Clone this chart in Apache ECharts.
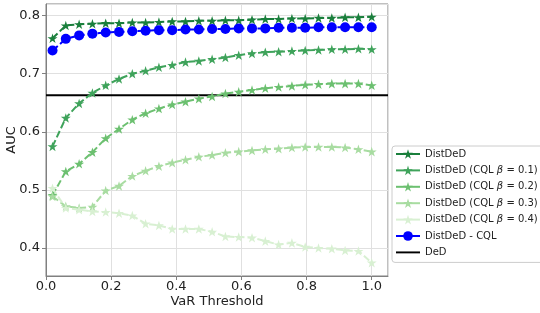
<!DOCTYPE html>
<html>
<head>
<meta charset="utf-8">
<script src="https://cdn.jsdelivr.net/npm/echarts@6/dist/echarts.min.js"></script>
<style>
html,body{margin:0;padding:0;background:#fff;}
#chart{width:540px;height:313px;}
</style>
</head>
<body>
<div id="chart"></div>
<script>
// VaR thresholds (25 evenly spaced values, 0.02 .. 1.0)
var thresholds = [0.02, 0.0608, 0.1017, 0.1425, 0.1833, 0.2242, 0.265, 0.3058, 0.3467, 0.3875, 0.4283, 0.4692, 0.51, 0.5508, 0.5917, 0.6325, 0.6733, 0.7142, 0.755, 0.7958, 0.8367, 0.8775, 0.9183, 0.9592, 1.0];

var distDeD = [0.761, 0.783, 0.785, 0.786, 0.787, 0.787, 0.788, 0.788, 0.789, 0.790, 0.790, 0.791, 0.791, 0.792, 0.792, 0.793, 0.794, 0.794, 0.795, 0.795, 0.796, 0.796, 0.797, 0.797, 0.798];
var cqlBeta01 = [0.575, 0.624, 0.649, 0.667, 0.680, 0.691, 0.700, 0.705, 0.711, 0.715, 0.720, 0.722, 0.725, 0.728, 0.732, 0.735, 0.737, 0.738, 0.739, 0.740, 0.741, 0.742, 0.742, 0.743, 0.742];
var cqlBeta02 = [0.491, 0.532, 0.545, 0.565, 0.589, 0.605, 0.621, 0.632, 0.640, 0.647, 0.652, 0.657, 0.661, 0.666, 0.669, 0.672, 0.675, 0.677, 0.679, 0.681, 0.682, 0.683, 0.683, 0.683, 0.680];
var cqlBeta03 = [0.489, 0.472, 0.469, 0.471, 0.499, 0.507, 0.524, 0.533, 0.541, 0.547, 0.552, 0.557, 0.560, 0.564, 0.566, 0.568, 0.570, 0.571, 0.573, 0.574, 0.574, 0.574, 0.573, 0.570, 0.566];
var cqlBeta04 = [0.503, 0.469, 0.466, 0.463, 0.462, 0.460, 0.456, 0.442, 0.439, 0.433, 0.433, 0.433, 0.428, 0.420, 0.419, 0.418, 0.412, 0.406, 0.409, 0.402, 0.400, 0.399, 0.396, 0.395, 0.375];
var distDeDCQL = [0.740, 0.760, 0.766, 0.769, 0.771, 0.772, 0.773, 0.774, 0.775, 0.775, 0.776, 0.776, 0.777, 0.777, 0.778, 0.778, 0.778, 0.779, 0.779, 0.779, 0.780, 0.780, 0.780, 0.780, 0.780];
var dedValue = 0.663;

var seriesNames = ['DistDeD', 'DistDeD (CQL β = 0.1)', 'DistDeD (CQL β = 0.2)', 'DistDeD (CQL β = 0.3)', 'DistDeD (CQL β = 0.4)', 'DistDeD - CQL', 'DeD'];

var xMin = 0, xMax = 1.05, yMin = 0.352, yMax = 0.82;

function pairs(ys) { return thresholds.map(function (x, i) { return [x, ys[i]]; }); }

var STAR = 'path://M0,-100 L22.45,-30.9 L95.1,-30.9 L36.3,11.8 L58.8,80.9 L0,38.2 L-58.8,80.9 L-36.3,11.8 L-95.1,-30.9 L-22.45,-30.9 Z';

function starSeries(name, ys, color) {
  return {
    name: name, type: 'line', data: pairs(ys),
    symbol: STAR, symbolSize: 10, symbolKeepAspect: true,
    itemStyle: { color: color },
    lineStyle: { color: color, width: 2, type: [7, 3] },
    emphasis: { disabled: true }
  };
}

var chart = echarts.init(document.getElementById('chart'), null, { renderer: 'canvas' });
var font = 'DejaVu Sans';

var legendData = seriesNames.map(function (n) {
  if (n === 'DeD') return { name: n, icon: 'path://M0,0H100V8H0Z' };
  return { name: n };
});

chart.setOption({
  animation: false,
  backgroundColor: '#ffffff',
  textStyle: { fontFamily: font },
  grid: { left: 46, right: 152, top: 4, bottom: 37, containLabel: false, outerBoundsMode: 'none',
    show: true, borderColor: '#808080', borderWidth: 1, backgroundColor: 'transparent' },
  legend: {
    orient: 'vertical', left: 392, top: 146,
    data: legendData,
    itemWidth: 24, itemHeight: 12, itemGap: 6.4,
    padding: [3, 10, 5, 3],
    lineStyle: { type: 'solid', width: 2 },
    backgroundColor: '#ffffff', borderColor: '#cccccc', borderWidth: 1, borderRadius: 3,
    textStyle: { fontFamily: font, fontSize: 10, color: '#222',
      rich: { n: { fontFamily: font, fontSize: 10, color: '#222' }, b: { fontFamily: font, fontSize: 10, color: '#222', fontStyle: 'italic' } } },
    formatter: function (name) {
      if (name.indexOf('β') >= 0) {
        var parts = name.split('β');
        return '{n|' + parts[0] + '}{b|β}{n|' + parts[1] + '}';
      }
      return name;
    }
  },
  xAxis: {
    type: 'value', min: xMin, max: xMax, interval: 0.2,
    name: 'VaR Threshold', nameLocation: 'middle', nameGap: 19, nameMoveOverlap: false,
    nameTextStyle: { fontFamily: font, fontSize: 13, color: '#222' },
    axisLine: { show: true, onZero: false, lineStyle: { color: '#808080' } },
    axisTick: { show: true, inside: false, length: 4, lineStyle: { color: '#808080' } },
    axisLabel: { fontFamily: font, fontSize: 13, color: '#222', margin: 4, showMaxLabel: false,
      formatter: function (v) { return v.toFixed(1); } },
    splitLine: { show: true, lineStyle: { color: '#e0e0e0', width: 1 } }
  },
  yAxis: {
    type: 'value', min: yMin, max: yMax, splitNumber: 5,
    name: 'AUC', nameLocation: 'middle', nameGap: 28, nameRotate: 90, nameMoveOverlap: false,
    nameTextStyle: { fontFamily: font, fontSize: 13, color: '#222' },
    axisLine: { show: true, onZero: false, lineStyle: { color: '#808080' } },
    axisTick: { show: true, inside: false, length: 4, lineStyle: { color: '#808080' } },
    axisLabel: { fontFamily: font, fontSize: 13, color: '#222', margin: 6, showMinLabel: false, showMaxLabel: false,
      formatter: function (v) { return v.toFixed(1); } },
    splitLine: { show: true, lineStyle: { color: '#e0e0e0', width: 1 } }
  },
  series: [
    starSeries(seriesNames[0], distDeD, '#1a7f3c'),
    starSeries(seriesNames[1], cqlBeta01, '#3fa35b'),
    starSeries(seriesNames[2], cqlBeta02, '#6cc070'),
    starSeries(seriesNames[3], cqlBeta03, '#a8dca1'),
    starSeries(seriesNames[4], cqlBeta04, '#d8f0d2'),
    {
      name: seriesNames[5], type: 'line', data: pairs(distDeDCQL),
      symbol: 'circle', symbolSize: 10,
      itemStyle: { color: '#0000ff' },
      lineStyle: { color: '#0000ff', width: 2, type: [7, 3] },
      emphasis: { disabled: true }
    },
    {
      name: seriesNames[6], type: 'line', data: [[xMin, dedValue], [xMax, dedValue]],
      symbol: 'none', showSymbol: false,
      itemStyle: { color: '#000000' },
      lineStyle: { color: '#000000', width: 2, type: 'solid' },
      emphasis: { disabled: true }, z: 1
    }
  ]
});
</script>
</body>
</html>
